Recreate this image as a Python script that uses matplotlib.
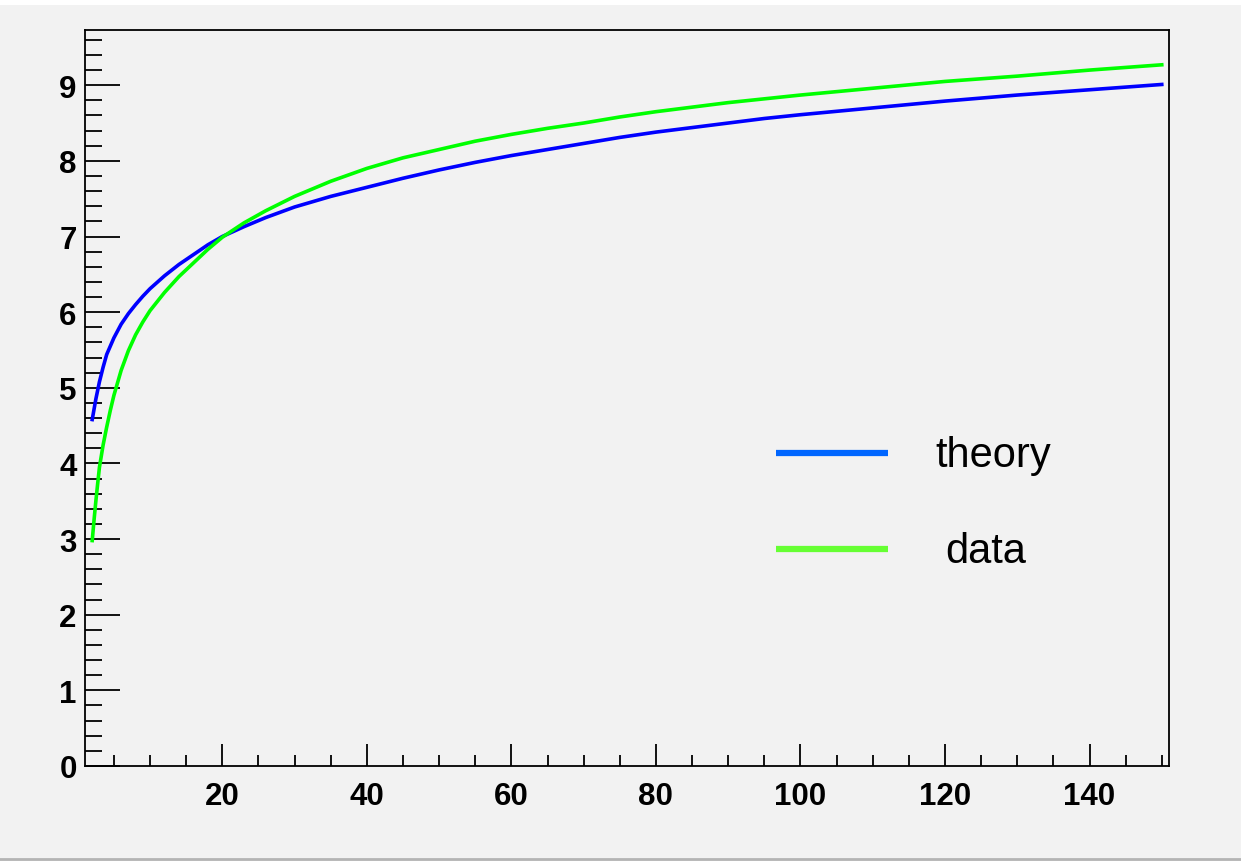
import matplotlib
matplotlib.use("Agg")
import matplotlib.pyplot as plt
from matplotlib.ticker import MultipleLocator
from matplotlib.lines import Line2D
from matplotlib.patches import Rectangle

# ---- data ----
theory_x = [2, 2.5, 3, 3.5, 4, 5, 6, 7, 8, 9, 10, 12, 14, 16, 18, 20, 23, 26,
            30, 35, 40, 45, 50, 55, 60, 65, 70, 75, 80, 85, 90, 95, 100, 110,
            120, 130, 140, 150]
theory_y = [4.58, 4.85, 5.08, 5.27, 5.44, 5.66, 5.84, 5.98, 6.10, 6.21, 6.31,
            6.48, 6.63, 6.76, 6.89, 7.00, 7.13, 7.25, 7.39, 7.53, 7.65, 7.77,
            7.88, 7.98, 8.07, 8.15, 8.23, 8.31, 8.38, 8.44, 8.50, 8.56, 8.61,
            8.70, 8.79, 8.87, 8.94, 9.01]

data_x = [2, 2.25, 2.5, 2.75, 3, 3.5, 4, 4.5, 5, 6, 7, 8, 9, 10, 12, 14, 16,
          18, 20, 23, 26, 30, 35, 40, 45, 50, 55, 60, 65, 70, 75, 80, 85, 90,
          95, 100, 110, 120, 130, 140, 150]
data_y = [2.98, 3.25, 3.50, 3.73, 3.95, 4.24, 4.48, 4.70, 4.90, 5.23, 5.49,
          5.70, 5.87, 6.02, 6.26, 6.47, 6.65, 6.83, 6.99, 7.18, 7.34, 7.53,
          7.73, 7.90, 8.04, 8.15, 8.26, 8.35, 8.43, 8.50, 8.58, 8.65, 8.71,
          8.77, 8.82, 8.87, 8.96, 9.05, 9.12, 9.20, 9.27]

series_labels = ["theory", "data"]

W, H = 1241, 862
fig = plt.figure(figsize=(W / 100, H / 100), dpi=100, facecolor="#f2f2f2")

# top white strip and bottom grey line (window border)
fig.patches.append(Rectangle((0, 1 - 6 / H), 1, 6 / H, transform=fig.transFigure,
                             facecolor="white", edgecolor="none", zorder=0))
fig.lines.append(Line2D([0, 1], [1 - 859.5 / H] * 2, transform=fig.transFigure,
                        color="#b4b4b4", lw=2))

left, right, top, bottom = 85, 1169, 31, 767
ax = fig.add_axes([left / W, 1 - bottom / H, (right - left) / W, (bottom - top) / H])
ax.set_facecolor("#f2f2f2")

ax.plot(theory_x, theory_y, color="#0000ff", lw=2.6, solid_joinstyle="round")
ax.plot(data_x, data_y, color="#00ff00", lw=2.6, solid_joinstyle="round")

ax.set_xlim(1, 151)
ax.set_ylim(0, 9.73)

ax.xaxis.set_major_locator(MultipleLocator(20))
ax.xaxis.set_minor_locator(MultipleLocator(5))
ax.yaxis.set_major_locator(MultipleLocator(1))
ax.yaxis.set_minor_locator(MultipleLocator(0.2))

ax.tick_params(axis="both", which="both", direction="in", top=False, right=False,
               width=1.3, color="black")
ax.tick_params(axis="x", which="major", length=16, pad=11)
ax.tick_params(axis="x", which="minor", length=8)
ax.tick_params(axis="y", which="major", length=25, pad=6)
ax.tick_params(axis="y", which="minor", length=12.5)
for lab in ax.get_xticklabels() + ax.get_yticklabels():
    lab.set_fontfamily(["Liberation Sans", "DejaVu Sans"])
    lab.set_fontweight("bold")
    lab.set_fontsize(22.5)

for s in ax.spines.values():
    s.set_linewidth(1.3)
    s.set_color("black")

# legend drawn manually in figure pixels
leg_colors = ["#0066ff", "#66ff33"]
leg_rows = [(454, 935), (550, 945)]
for (yy, tx), lab, c in zip(leg_rows, series_labels, leg_colors):
    fig.lines.append(Line2D([775.7 / W, 887.7 / W], [1 - yy / H] * 2,
                            transform=fig.transFigure, color=c, lw=4.5,
                            solid_capstyle="butt"))
    fig.text(tx / W, 1 - (yy + 13) / H, lab, fontsize=30,
             family=["Liberation Sans", "DejaVu Sans"], va="baseline", ha="left")

fig.savefig("out.png", dpi=100, facecolor=fig.get_facecolor())
